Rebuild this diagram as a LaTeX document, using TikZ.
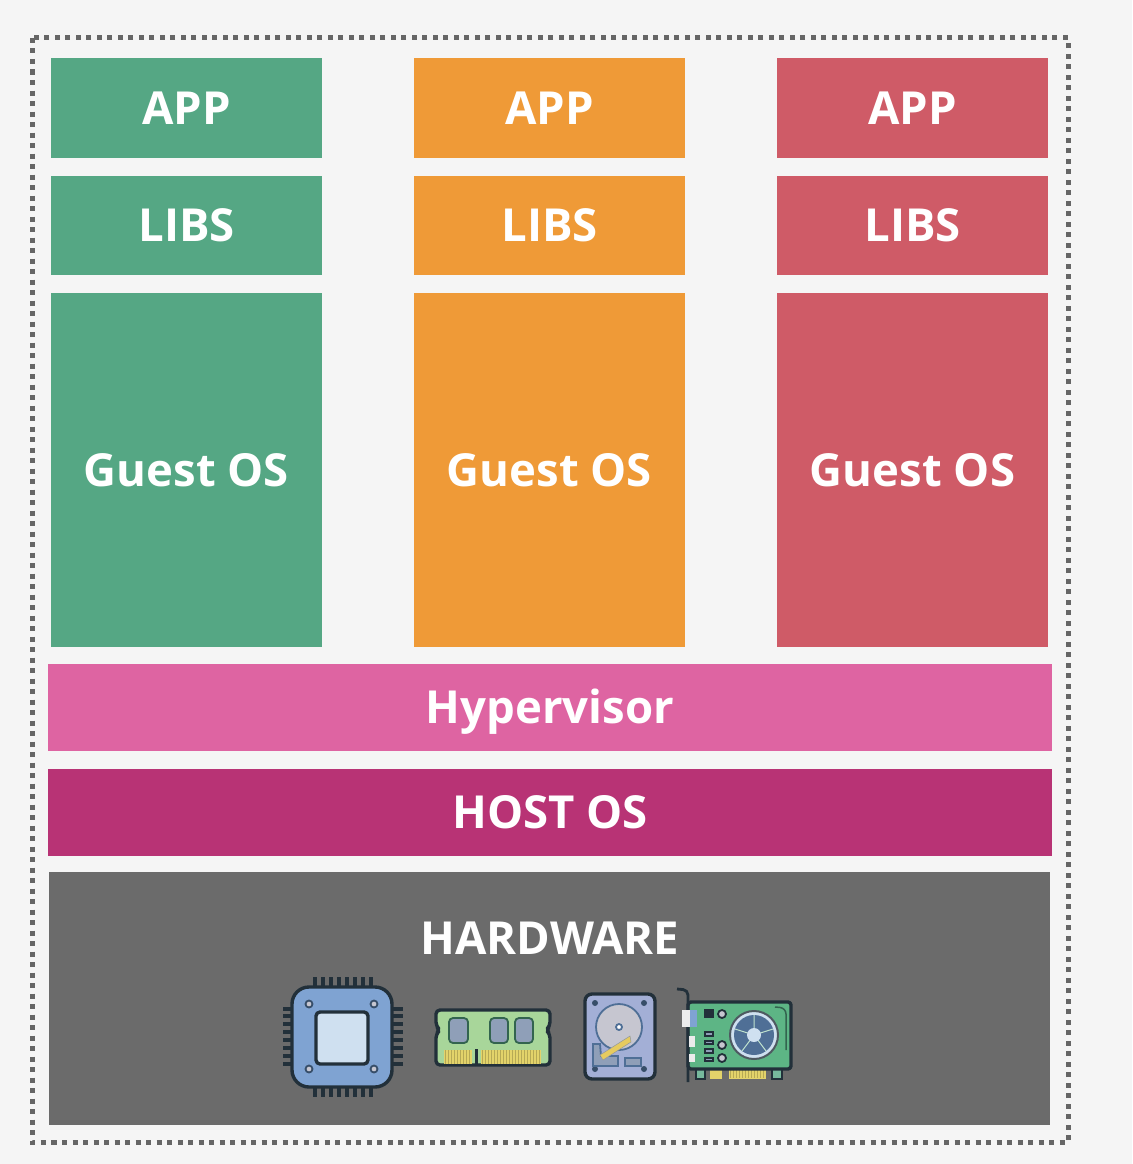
\documentclass[tikz,border=0pt]{standalone}
\usepackage{fontspec}
\setmainfont{Open Sans}
\definecolor{pagebg}{HTML}{F5F5F5}
\definecolor{greenbox}{HTML}{55A784}
\definecolor{orangebox}{HTML}{EF9A37}
\definecolor{redbox}{HTML}{CF5B67}
\definecolor{pinkbox}{HTML}{DE64A2}
\definecolor{hostbox}{HTML}{B83375}
\definecolor{hwbox}{HTML}{6B6B6B}
\definecolor{icondark}{HTML}{22303A}
\definecolor{cpublue}{HTML}{7FA3D2}
\definecolor{cpudie}{HTML}{CFE0F0}
\definecolor{ramgreen}{HTML}{A8D69A}
\definecolor{chipblue}{HTML}{8F9FB8}
\definecolor{gold}{HTML}{E3D36A}
\definecolor{hddblue}{HTML}{A3AFD6}
\definecolor{platter}{HTML}{C6C6D0}
\definecolor{gpugreen}{HTML}{5DB585}
\definecolor{fanblue}{HTML}{4F6F96}
\tikzset{
  box/.style={draw=none,inner sep=0pt,text=white,text height=32.5pt,text depth=0pt,font=\fontsize{45.5}{45.5}\selectfont\bfseries},
  stackbox/.style={box,minimum width=271pt},
  wide/.style={box,minimum height=87pt},
  icon/.style={draw=icondark,line width=3.4pt,line join=round},
  thinicon/.style={draw=icondark,line width=1.8pt},
  pins/.style={draw=icondark,line width=3.4pt},
  contacts/.style={draw=gold!80!black,line width=14pt,dash pattern=on 1pt off 2pt}
}
\begin{document}
\begin{tikzpicture}[x=1pt,y=-1pt]
\fill[pagebg] (0,0) rectangle (1132,1164);
\useasboundingbox (0,0) rectangle (1132,1164);
\draw[gray!80!black,line width=5pt,dash pattern=on 5pt off 5.5pt] (32,38) rectangle (1068,1142);

\node (appA) at (186.5,108) [stackbox,fill=greenbox,minimum height=100pt]{APP};
\node (libsA) at (186.5,225.5) [stackbox,fill=greenbox,minimum height=99pt]{LIBS};
\node (guestA) at (186.5,470) [stackbox,fill=greenbox,minimum height=354pt]{Guest OS};
\node (appB) at (549.5,108) [stackbox,fill=orangebox,minimum height=100pt]{APP};
\node (libsB) at (549.5,225.5) [stackbox,fill=orangebox,minimum height=99pt]{LIBS};
\node (guestB) at (549.5,470) [stackbox,fill=orangebox,minimum height=354pt]{Guest OS};
\node (appC) at (912.5,108) [stackbox,fill=redbox,minimum height=100pt]{APP};
\node (libsC) at (912.5,225.5) [stackbox,fill=redbox,minimum height=99pt]{LIBS};
\node (guestC) at (912.5,470) [stackbox,fill=redbox,minimum height=354pt]{Guest OS};

\node (hypervisor) at (550,707.5) [wide,fill=pinkbox,minimum width=1004pt]{Hypervisor};
\node (hostos) at (550,812) [wide,fill=hostbox,minimum width=1004pt]{HOST OS};
\fill[hwbox] (49,872) rectangle (1050,1125);
\node (hardware) at (550,938) [box]{HARDWARE};

% cpu
\draw[pins] (315,977)--(315,987) (323,977)--(323,987) (331,977)--(331,987) (339,977)--(339,987)
 (347,977)--(347,987) (355,977)--(355,987) (363,977)--(363,987) (371,977)--(371,987);
\draw[pins] (315,1087)--(315,1097) (323,1087)--(323,1097) (331,1087)--(331,1097) (339,1087)--(339,1097)
 (347,1087)--(347,1097) (355,1087)--(355,1097) (363,1087)--(363,1097) (371,1087)--(371,1097);
\draw[pins] (283,1009)--(292,1009) (283,1016)--(292,1016) (283,1024)--(292,1024) (283,1032)--(292,1032)
 (283,1040)--(292,1040) (283,1048)--(292,1048) (283,1056)--(292,1056) (283,1064)--(292,1064);
\draw[pins] (392,1009)--(403,1009) (392,1016)--(403,1016) (392,1024)--(403,1024) (392,1032)--(403,1032)
 (392,1040)--(403,1040) (392,1048)--(403,1048) (392,1056)--(403,1056) (392,1064)--(403,1064);
\draw[icon,fill=cpublue,rounded corners=17pt] (292,987) rectangle (392,1087);
\draw[icon,fill=cpudie,rounded corners=4pt] (316,1012) rectangle (368,1064);
\draw[thinicon,draw=fanblue!70!black,fill=platter] (309,1004) circle (3.5);
\draw[thinicon,draw=fanblue!70!black,fill=platter] (374,1004) circle (3.5);
\draw[thinicon,draw=fanblue!70!black,fill=platter] (309,1069) circle (3.5);
\draw[thinicon,draw=fanblue!70!black,fill=platter] (374,1069) circle (3.5);

% ram
\draw[icon,fill=ramgreen,rounded corners=4pt] (436,1010)--(550,1010)--(550,1026)--(546,1030)--(550,1034)--(550,1065)--(436,1065)--(436,1034)--(440,1030)--(436,1026)--cycle;
\draw[thinicon,fill=chipblue,draw=greenbox!60!black,rounded corners=4pt] (449,1018) rectangle (468,1043);
\draw[thinicon,fill=chipblue,draw=greenbox!60!black,rounded corners=4pt] (490,1018) rectangle (508,1043);
\draw[thinicon,fill=chipblue,draw=greenbox!60!black,rounded corners=4pt] (515,1018) rectangle (533,1043);
\fill[gold] (444,1050) rectangle (472,1064);
\fill[gold] (481,1050) rectangle (541,1064);
\draw[contacts] (445,1057)--(471,1057);
\draw[contacts] (482,1057)--(540,1057);
\draw[icondark,line width=3pt] (476.5,1066)--(476.5,1049);

% hdd
\draw[icon,fill=hddblue,rounded corners=7pt] (585,994) rectangle (655,1079);
\fill[fanblue!70!black] (595,1003) circle (3);
\fill[fanblue!70!black] (644,1003) circle (3);
\fill[fanblue!70!black] (595,1069) circle (3);
\fill[fanblue!70!black] (644,1069) circle (3);
\draw[thinicon,draw=fanblue,fill=platter] (619,1027) circle (23);
\draw[thinicon,draw=fanblue,fill=white] (619,1027) circle (3);
\draw[thinicon,draw=fanblue,fill=chipblue] (593,1044)--(600,1044)--(601,1056)--(618,1056)--(618,1066)--(593,1066)--cycle;
\draw[thinicon,draw=fanblue,fill=chipblue] (625,1058)--(641,1058)--(641,1066)--(625,1066)--cycle;
\fill[gold!90!orange,draw=icondark!50,line width=.5pt] (600,1055)--(630,1036)--(631,1042)--(603,1060)--cycle;

% gpu
\draw[thinicon,fill=greenbox!80!white] (696,1069) rectangle (705,1079);
\draw[thinicon,fill=greenbox!80!white] (772,1069) rectangle (782,1079);
\fill[gold] (710,1070) rectangle (722,1079);
\fill[gold] (729,1070) rectangle (766,1079);
\draw[contacts,line width=8pt] (730,1074)--(765,1074);
\draw[icon,fill=gpugreen,rounded corners=3pt] (688,1002) rectangle (791,1069);
\draw[icondark,line width=2.8pt,rounded corners=5pt] (677,989)--(688,990)--(688,1082);
\fill[white!85!gray] (682,1010) rectangle (690,1027);
\fill[cpublue] (690,1010) rectangle (697,1027);
\fill[white!85!gray] (689,1036) rectangle (695,1047);
\fill[white!85!gray] (689,1054) rectangle (695,1062);
\draw[thinicon,fill=icondark] (705,1010) rectangle (713,1017);
\draw[thinicon,fill=platter] (722,1014) circle (4);
\draw[thinicon,fill=platter] (722,1045) circle (4);
\draw[thinicon,fill=platter] (722,1058) circle (4);
\draw[thinicon,fill=chipblue] (705,1032) rectangle (713,1036);
\draw[thinicon,fill=chipblue] (705,1041) rectangle (713,1044);
\draw[thinicon,fill=chipblue] (705,1049) rectangle (713,1053);
\draw[thinicon,fill=chipblue] (705,1058) rectangle (713,1061);
\draw[greenbox!60!black,line width=1.5pt,rounded corners=6pt] (775,1007)--(786,1008)--(786,1050);
\draw[line width=2pt,draw=icondark!80,fill=cpudie] (754,1035) circle (24);
\fill[fanblue] (754,1035) circle (20);
\draw[gpugreen!40!white,line width=1pt] (754,1035)--(754,1015) (754,1035)--(773,1029) (754,1035)--(766,1051) (754,1035)--(742,1051) (754,1035)--(735,1029);
\fill[cpudie] (754,1035) circle (7);
\end{tikzpicture}
\end{document}
